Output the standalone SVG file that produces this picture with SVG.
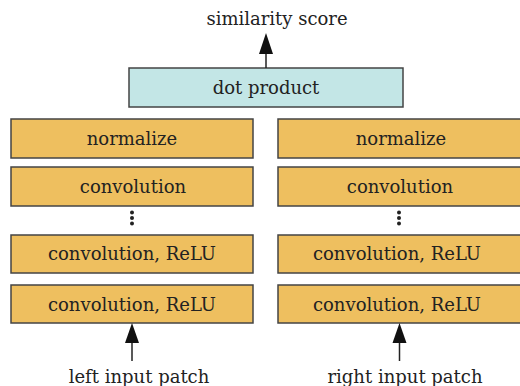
<svg xmlns="http://www.w3.org/2000/svg" width="520" height="386" viewBox="0 0 520 386">
<defs>
<style>
.box{fill:#EEBF5F;stroke:#444;stroke-width:1.5}
.dp{fill:#C3E6E6;stroke:#444;stroke-width:1.5}
text{font-family:"DejaVu Serif","Liberation Serif",serif;font-size:18px;fill:#222;text-anchor:middle}
.ln{stroke:#222;stroke-width:1.5;fill:none}
.ah{fill:#111}
.dot{fill:#222}
</style>
</defs>
<rect width="520" height="386" fill="#fff"/>
<text x="277" y="25">similarity score</text>
<text x="139" y="383">left input patch</text>
<text x="405" y="383">right input patch</text>
<g id="dotproduct"><rect class="dp" x="129" y="68" width="274" height="39"/><text x="266" y="94">dot product</text></g>
<g id="l_norm"><rect class="box" x="11" y="119" width="242" height="39"/><text x="132" y="145">normalize</text></g>
<g id="l_conv"><rect class="box" x="11" y="167" width="242" height="39"/><text x="133" y="193">convolution</text></g>
<g id="l_relu2"><rect class="box" x="11" y="235" width="242" height="38"/><text x="132" y="260">convolution, ReLU</text></g>
<g id="l_relu1"><rect class="box" x="11" y="285" width="242" height="38"/><text x="132" y="311">convolution, ReLU</text></g>
<g id="r_norm"><rect class="box" x="278" y="119" width="244" height="39"/><text x="401" y="145">normalize</text></g>
<g id="r_conv"><rect class="box" x="278" y="167" width="244" height="39"/><text x="400" y="193">convolution</text></g>
<g id="r_relu2"><rect class="box" x="278" y="235" width="244" height="38"/><text x="397" y="260">convolution, ReLU</text></g>
<g id="r_relu1"><rect class="box" x="278" y="285" width="244" height="38"/><text x="397" y="311">convolution, ReLU</text></g>
<g id="ellipsis">
<circle class="dot" cx="132" cy="212.5" r="2"/><circle class="dot" cx="132" cy="218" r="2"/><circle class="dot" cx="132" cy="223.5" r="2"/>
<circle class="dot" cx="399" cy="212.5" r="2"/><circle class="dot" cx="399" cy="218" r="2"/><circle class="dot" cx="399" cy="223.5" r="2"/>
</g>
<g id="connectors">
<line class="ln" x1="266" y1="68" x2="266" y2="50"/>
<path class="ah" d="M266,33 L273,54 L259,54 Z"/>
<line class="ln" x1="132" y1="361" x2="132" y2="340"/>
<path class="ah" d="M132,323 L139,343 L125,343 Z"/>
<line class="ln" x1="399.5" y1="361" x2="399.5" y2="340"/>
<path class="ah" d="M399.5,323 L406.5,343 L392.5,343 Z"/>
</g>
</svg>
